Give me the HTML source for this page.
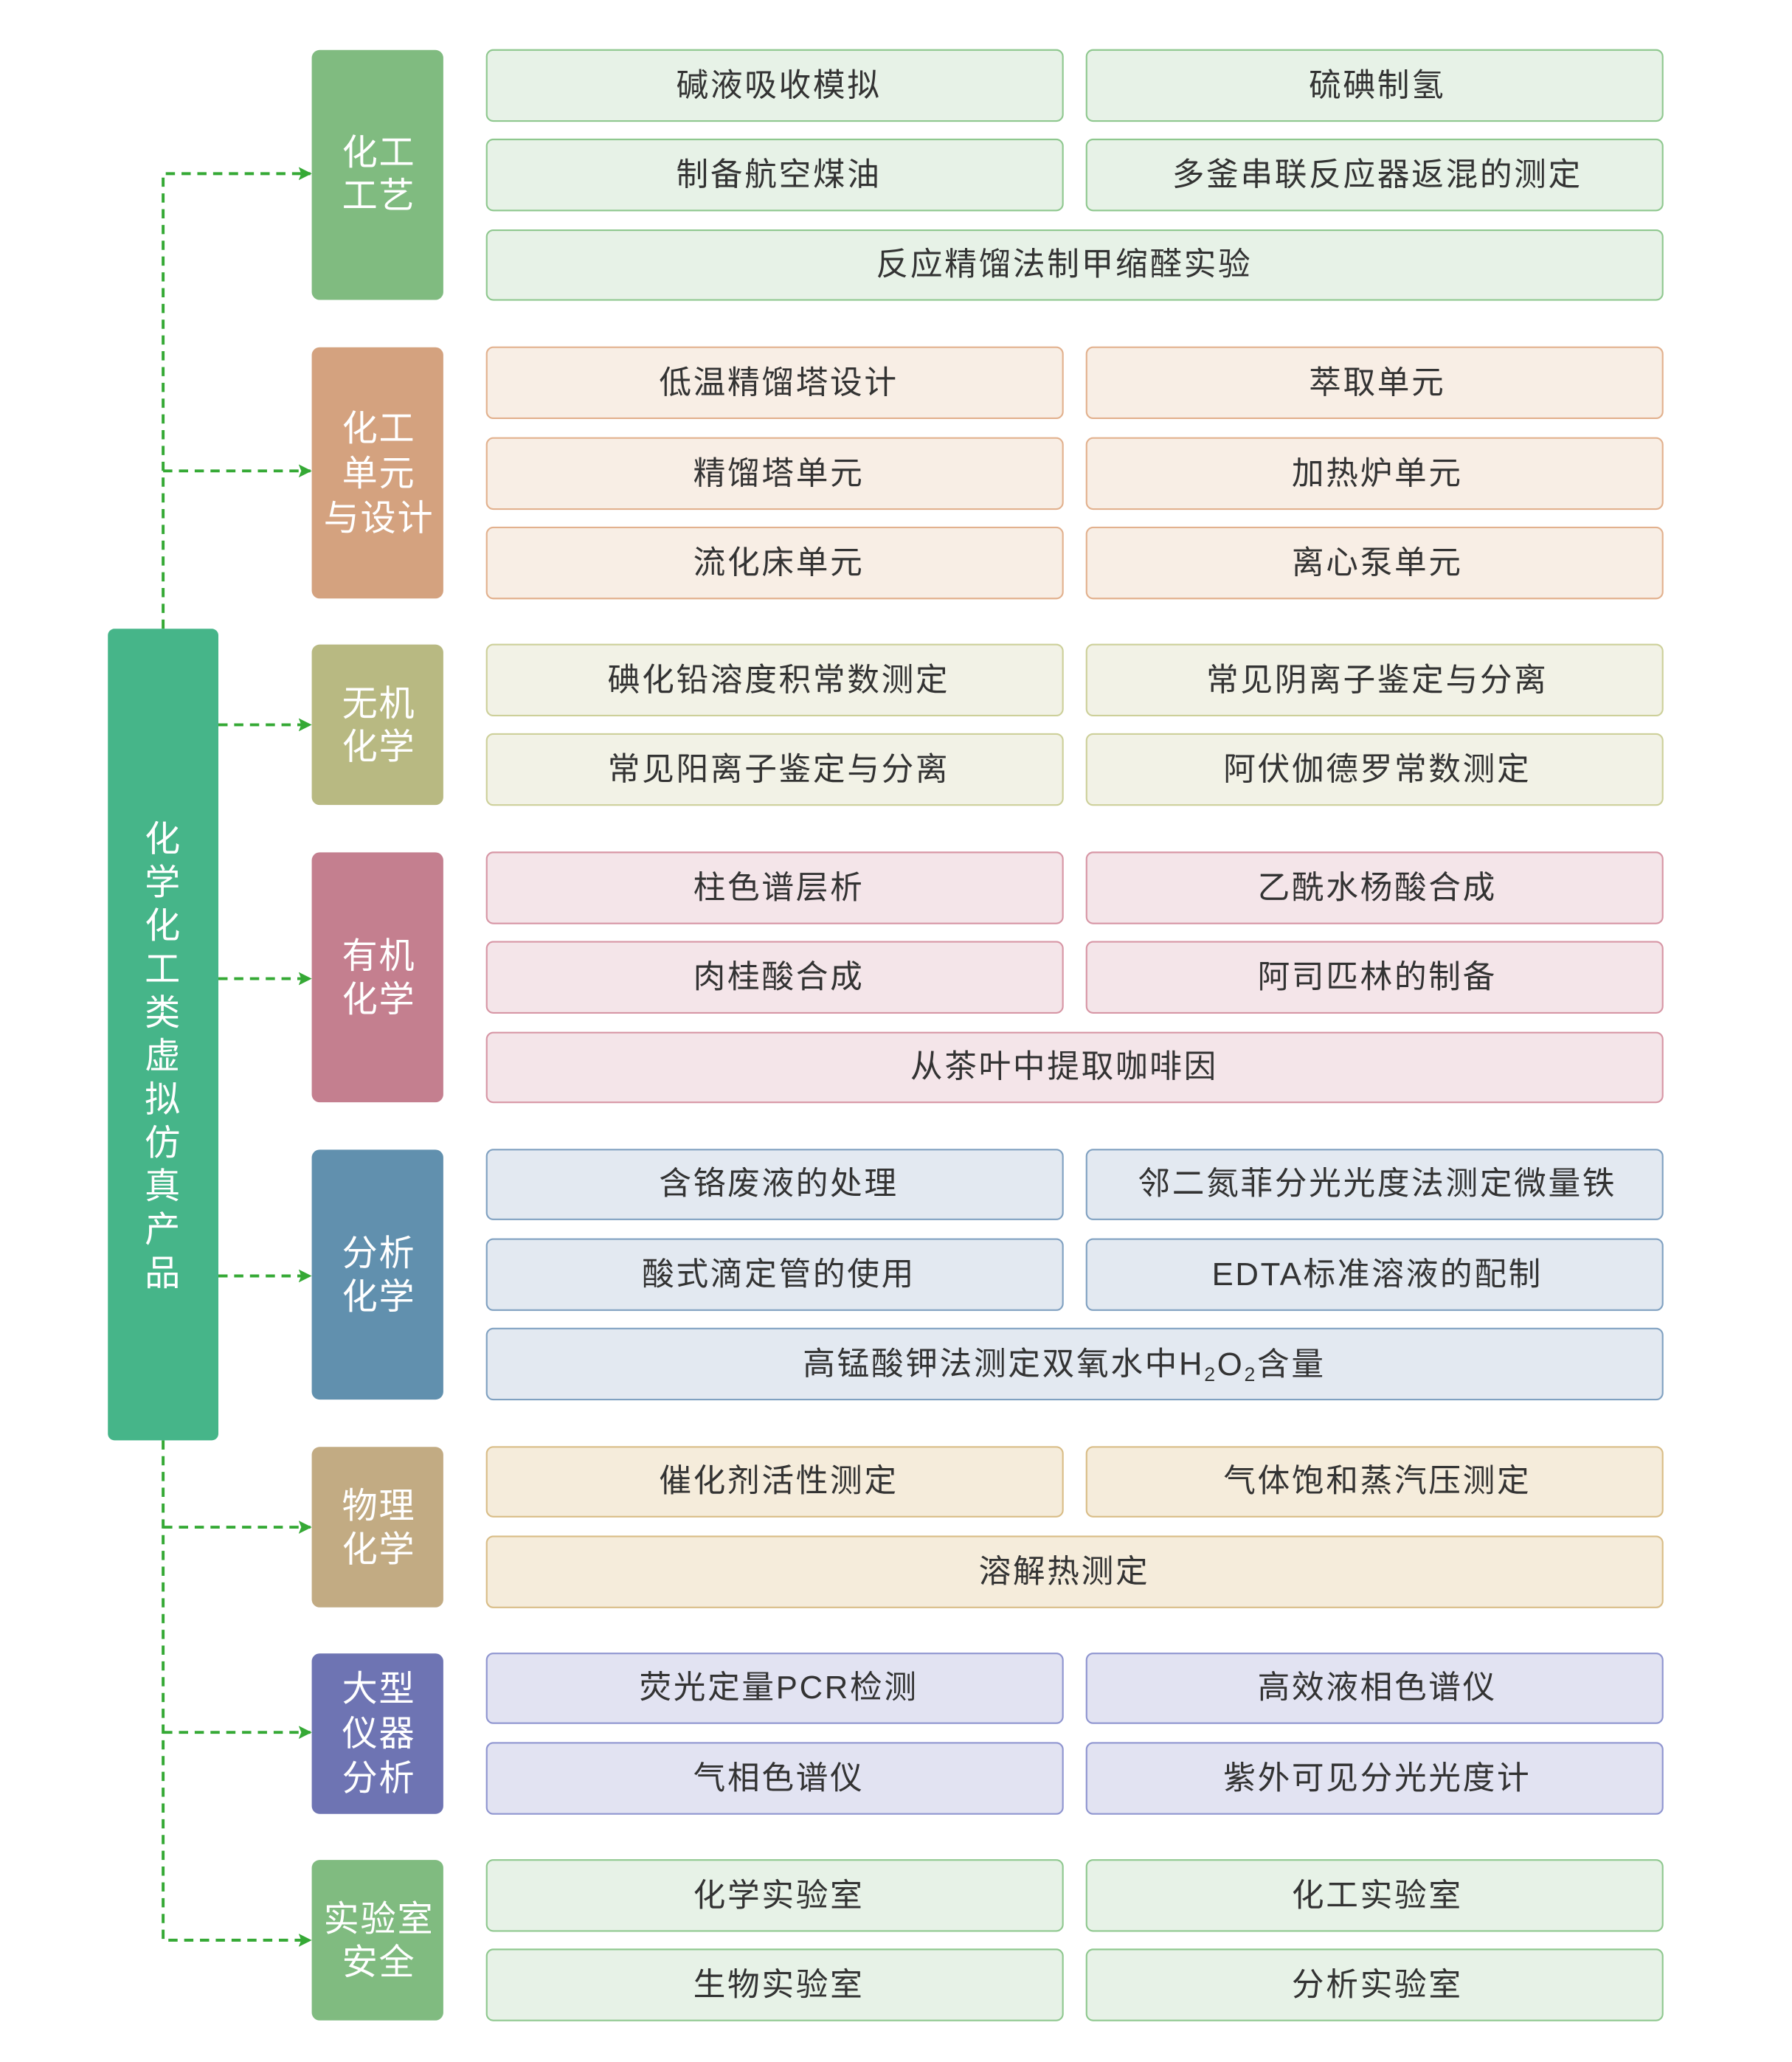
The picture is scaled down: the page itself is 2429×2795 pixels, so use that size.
<!DOCTYPE html>
<html><head><meta charset="utf-8"><style>
html,body{margin:0;padding:0;background:#fff;}
svg{display:block;}
text{font-family:"Liberation Sans","Noto Sans CJK SC",sans-serif;}
.it{font-size:24.5px;fill:#333;text-anchor:middle;dominant-baseline:central;letter-spacing:1.5px;}
.ct{font-size:27px;fill:#fff;text-anchor:middle;dominant-baseline:central;letter-spacing:1px;}
</style></head><body>
<svg width="2429" height="2795" viewBox="0 0 1362.3 1567.6" xmlns="http://www.w3.org/2000/svg">
<defs><marker id="ar" markerWidth="10" markerHeight="10" refX="9" refY="5" orient="auto" markerUnits="userSpaceOnUse"><path d="M0,0 L10,5 L0,10 L2,5 z" fill="#35a935"/></marker></defs>
<g stroke="#35a935" stroke-width="2.2" stroke-dasharray="7,5" fill="none">
<path d="M124,478 V132 H236" marker-end="url(#ar)"/>
<path d="M124,358 H236" marker-end="url(#ar)"/>
<path d="M166,551 H236" marker-end="url(#ar)"/>
<path d="M166,744 H236" marker-end="url(#ar)"/>
<path d="M166,970 H236" marker-end="url(#ar)"/>
<path d="M124,1095 V1475 H236" marker-end="url(#ar)"/>
<path d="M124,1161 H236" marker-end="url(#ar)"/>
<path d="M124,1317 H236" marker-end="url(#ar)"/>
</g>
<rect x="82" y="478" width="84" height="617" rx="5" fill="#46b589"/>
<g>
<text class="ct" x="124" y="638">化</text><text class="ct" x="124" y="671">学</text><text class="ct" x="124" y="704">化</text><text class="ct" x="124" y="737">工</text><text class="ct" x="124" y="770">类</text><text class="ct" x="124" y="803">虚</text><text class="ct" x="124" y="836">拟</text><text class="ct" x="124" y="869">仿</text><text class="ct" x="124" y="902">真</text><text class="ct" x="124" y="935">产</text><text class="ct" x="124" y="968">品</text>
</g>

<!-- group 1 -->
<rect x="237" y="38" width="100" height="190" rx="6" fill="#80bb80"/>
<text class="ct" x="288" y="116">化工</text><text class="ct" x="288" y="149">工艺</text>
<g fill="#e7f2e7" stroke="#8fc88f" stroke-width="1.2">
<rect x="370" y="38" width="438" height="54" rx="5"/><rect x="826" y="38" width="438" height="54" rx="5"/>
<rect x="370" y="106" width="438" height="54" rx="5"/><rect x="826" y="106" width="438" height="54" rx="5"/>
<rect x="370" y="175" width="894" height="53" rx="5"/></g>
<text class="it" x="592" y="65">碱液吸收模拟</text><text class="it" x="1047" y="65">硫碘制氢</text>
<text class="it" x="592" y="133">制备航空煤油</text><text class="it" x="1047" y="133">多釜串联反应器返混的测定</text>
<text class="it" x="809" y="201">反应精馏法制甲缩醛实验</text>

<!-- group 2 -->
<rect x="237" y="264" width="100" height="191" rx="6" fill="#d4a27f"/>
<text class="ct" x="288" y="326">化工</text><text class="ct" x="288" y="360">单元</text><text class="ct" x="288" y="394">与设计</text>
<g fill="#f8eee5" stroke="#e2b18e" stroke-width="1.2">
<rect x="370" y="264" width="438" height="54" rx="5"/><rect x="826" y="264" width="438" height="54" rx="5"/>
<rect x="370" y="333" width="438" height="54" rx="5"/><rect x="826" y="333" width="438" height="54" rx="5"/>
<rect x="370" y="401" width="438" height="54" rx="5"/><rect x="826" y="401" width="438" height="54" rx="5"/></g>
<text class="it" x="592" y="291">低温精馏塔设计</text><text class="it" x="1047" y="291">萃取单元</text>
<text class="it" x="592" y="360">精馏塔单元</text><text class="it" x="1047" y="360">加热炉单元</text>
<text class="it" x="592" y="428">流化床单元</text><text class="it" x="1047" y="428">离心泵单元</text>

<!-- group 3 -->
<rect x="237" y="490" width="100" height="122" rx="6" fill="#b8b982"/>
<text class="ct" x="288" y="535">无机</text><text class="ct" x="288" y="568">化学</text>
<g fill="#f2f2e6" stroke="#cdd09a" stroke-width="1.2">
<rect x="370" y="490" width="438" height="54" rx="5"/><rect x="826" y="490" width="438" height="54" rx="5"/>
<rect x="370" y="558" width="438" height="54" rx="5"/><rect x="826" y="558" width="438" height="54" rx="5"/></g>
<text class="it" x="592" y="517">碘化铅溶度积常数测定</text><text class="it" x="1047" y="517">常见阴离子鉴定与分离</text>
<text class="it" x="592" y="585">常见阳离子鉴定与分离</text><text class="it" x="1047" y="585">阿伏伽德罗常数测定</text>

<!-- group 4 -->
<rect x="237" y="648" width="100" height="190" rx="6" fill="#c47f8f"/>
<text class="ct" x="288" y="727">有机</text><text class="ct" x="288" y="760">化学</text>
<g fill="#f4e5e9" stroke="#d796a5" stroke-width="1.2">
<rect x="370" y="648" width="438" height="54" rx="5"/><rect x="826" y="648" width="438" height="54" rx="5"/>
<rect x="370" y="716" width="438" height="54" rx="5"/><rect x="826" y="716" width="438" height="54" rx="5"/>
<rect x="370" y="785" width="894" height="53" rx="5"/></g>
<text class="it" x="592" y="675">柱色谱层析</text><text class="it" x="1047" y="675">乙酰水杨酸合成</text>
<text class="it" x="592" y="743">肉桂酸合成</text><text class="it" x="1047" y="743">阿司匹林的制备</text>
<text class="it" x="809" y="811">从茶叶中提取咖啡因</text>

<!-- group 5 -->
<rect x="237" y="874" width="100" height="190" rx="6" fill="#6190ae"/>
<text class="ct" x="288" y="953">分析</text><text class="ct" x="288" y="986">化学</text>
<g fill="#e3e9f1" stroke="#80a1c1" stroke-width="1.2">
<rect x="370" y="874" width="438" height="53" rx="5"/><rect x="826" y="874" width="438" height="53" rx="5"/>
<rect x="370" y="942" width="438" height="54" rx="5"/><rect x="826" y="942" width="438" height="54" rx="5"/>
<rect x="370" y="1010" width="894" height="54" rx="5"/></g>
<text class="it" x="592" y="900">含铬废液的处理</text><text class="it" x="1047" y="900">邻二氮菲分光光度法测定微量铁</text>
<text class="it" x="592" y="969">酸式滴定管的使用</text><text class="it" x="1047" y="969">EDTA标准溶液的配制</text>
<text class="it" x="809" y="1037">高锰酸钾法测定双氧水中H<tspan font-size="15" dy="8">2</tspan><tspan dy="-8">O</tspan><tspan font-size="15" dy="8">2</tspan><tspan dy="-8">含量</tspan></text>

<!-- group 6 -->
<rect x="237" y="1100" width="100" height="122" rx="6" fill="#c2ab83"/>
<text class="ct" x="288" y="1145">物理</text><text class="ct" x="288" y="1178">化学</text>
<g fill="#f5ecdb" stroke="#d9bd87" stroke-width="1.2">
<rect x="370" y="1100" width="438" height="53" rx="5"/><rect x="826" y="1100" width="438" height="53" rx="5"/>
<rect x="370" y="1168" width="894" height="54" rx="5"/></g>
<text class="it" x="592" y="1126">催化剂活性测定</text><text class="it" x="1047" y="1126">气体饱和蒸汽压测定</text>
<text class="it" x="809" y="1195">溶解热测定</text>

<!-- group 7 -->
<rect x="237" y="1257" width="100" height="122" rx="6" fill="#6e74b3"/>
<text class="ct" x="288" y="1284">大型</text><text class="ct" x="288" y="1318">仪器</text><text class="ct" x="288" y="1352">分析</text>
<g fill="#e2e3f2" stroke="#8f95d0" stroke-width="1.2">
<rect x="370" y="1257" width="438" height="53" rx="5"/><rect x="826" y="1257" width="438" height="53" rx="5"/>
<rect x="370" y="1325" width="438" height="54" rx="5"/><rect x="826" y="1325" width="438" height="54" rx="5"/></g>
<text class="it" x="592" y="1283">荧光定量PCR检测</text><text class="it" x="1047" y="1283">高效液相色谱仪</text>
<text class="it" x="592" y="1352">气相色谱仪</text><text class="it" x="1047" y="1352">紫外可见分光光度计</text>

<!-- group 8 -->
<rect x="237" y="1414" width="100" height="122" rx="6" fill="#80bb80"/>
<text class="ct" x="288" y="1459">实验室</text><text class="ct" x="288" y="1492">安全</text>
<g fill="#e7f2e7" stroke="#8fc88f" stroke-width="1.2">
<rect x="370" y="1414" width="438" height="54" rx="5"/><rect x="826" y="1414" width="438" height="54" rx="5"/>
<rect x="370" y="1482" width="438" height="54" rx="5"/><rect x="826" y="1482" width="438" height="54" rx="5"/></g>
<text class="it" x="592" y="1441">化学实验室</text><text class="it" x="1047" y="1441">化工实验室</text>
<text class="it" x="592" y="1509">生物实验室</text><text class="it" x="1047" y="1509">分析实验室</text>
</svg>
</body></html>
